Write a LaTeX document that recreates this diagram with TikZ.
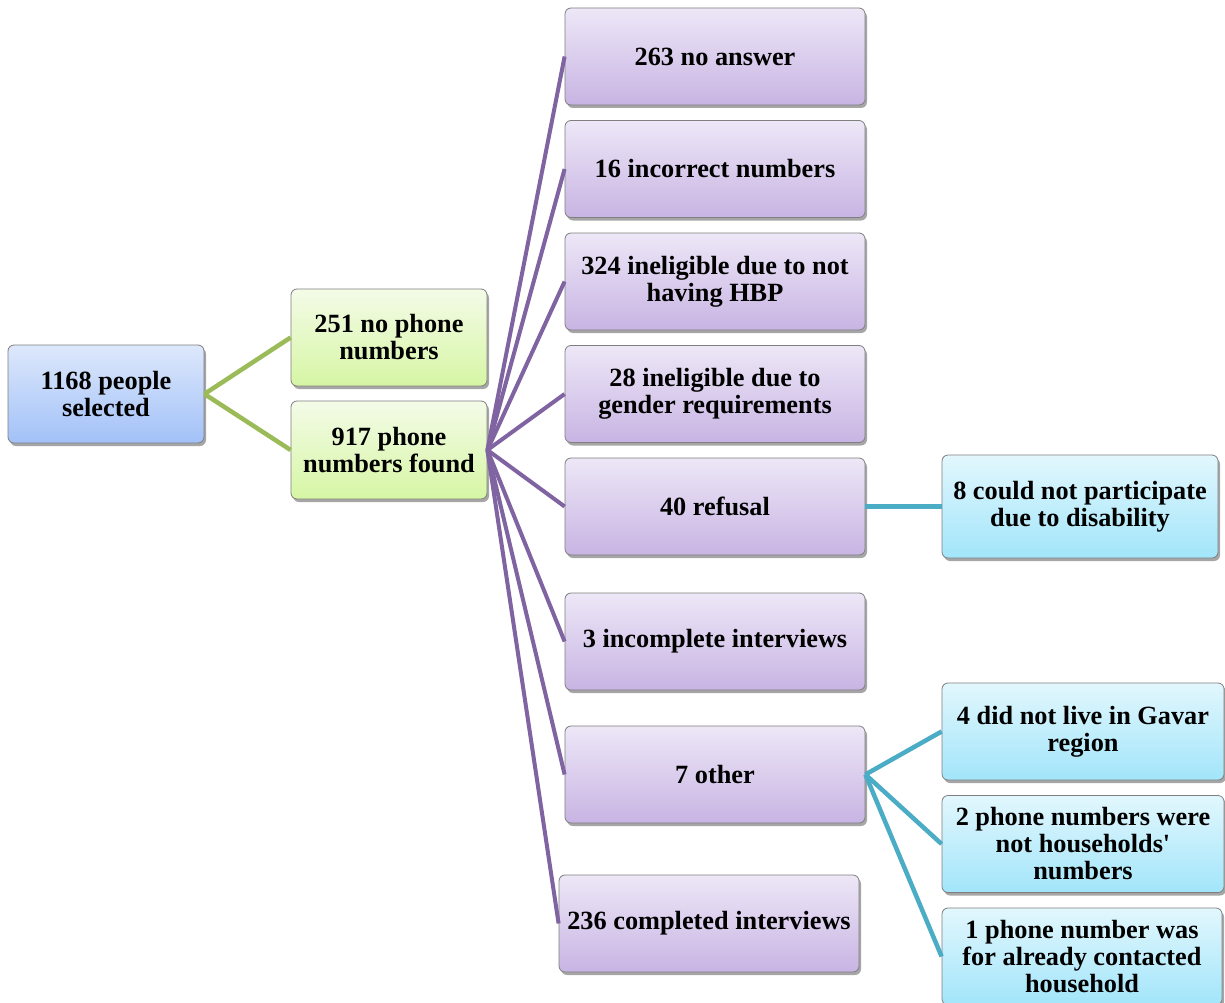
\documentclass[tikz,border=0pt]{standalone}
\usepackage{fontspec}
\setmainfont{Liberation Serif}[Ligatures=TeXOff]
\usetikzlibrary{shadows}
\definecolor{boxborder}{HTML}{7F7F7F}
\definecolor{bluetop}{HTML}{DDE8FB}
\definecolor{bluebot}{HTML}{A2C1F8}
\definecolor{greentop}{HTML}{F4FBE8}
\definecolor{greenbot}{HTML}{D6F6A4}
\definecolor{purptop}{HTML}{EDE7F7}
\definecolor{purpbot}{HTML}{C8B4E3}
\definecolor{cyantop}{HTML}{E2F7FD}
\definecolor{cyanbot}{HTML}{A2E5FA}
\definecolor{gline}{HTML}{9BBB59}
\definecolor{pline}{HTML}{8064A2}
\definecolor{cline}{HTML}{4BACC6}
\tikzset{
  box/.style={rounded corners=6pt, draw=boxborder, line width=0.8pt, align=center,
    font=\fontsize{26.3}{27}\selectfont\bfseries, inner sep=0pt,
    drop shadow={shadow xshift=2pt, shadow yshift=-3pt, opacity=0.35, fill=black}},
  bluebox/.style={box, top color=bluetop, bottom color=bluebot},
  greenbox/.style={box, top color=greentop, bottom color=greenbot},
  purpbox/.style={box, top color=purptop, bottom color=purpbot, minimum width=300pt, minimum height=97pt},
  cyanbox/.style={box, top color=cyantop, bottom color=cyanbot, minimum height=97pt},
  glink/.style={draw=gline, line width=4.5pt},
  plink/.style={draw=pline, line width=4pt},
  clink/.style={draw=cline, line width=4.5pt},
}
\begin{document}
\begin{tikzpicture}[x=1pt,y=1pt]
\clip (0,0) rectangle (1225,-1003);
\fill[white] (0,0) rectangle (1225,-1003);
% nodes
\node[bluebox, minimum width=196pt, minimum height=98pt] (A) at (106,-394) {1168 people\\selected};
\node[greenbox, minimum width=196pt, minimum height=97pt] (B) at (389,-337.5) {251 no phone\\numbers};
\node[greenbox, minimum width=196pt, minimum height=98pt] (C) at (389,-450) {917 phone\\numbers found};
\node[purpbox] (P1) at (715,-56.5) {263 no answer};
\node[purpbox] (P2) at (715,-169) {16 incorrect numbers};
\node[purpbox] (P3) at (715,-281.5) {324 ineligible due to not\\having HBP};
\node[purpbox] (P4) at (715,-394) {28 ineligible due to\\gender requirements};
\node[purpbox] (P5) at (715,-506.5) {40 refusal};
\node[purpbox] (P6) at (715,-641.5) {3 incomplete interviews};
\node[purpbox] (P7) at (715,-774.5) {7 other};
\node[purpbox] (P8) at (709,-923.5) {236 completed interviews};
\node[cyanbox, minimum width=276pt, minimum height=103pt] (Q1) at (1080,-506.5) {8 could not participate\\due to disability};
\node[cyanbox, minimum width=282pt] (Q2) at (1083,-731.5) {4 did not live in Gavar\\region};
\node[cyanbox, minimum width=282pt] (Q3) at (1083,-844) {2 phone numbers were\\not households'\\numbers};
\node[cyanbox, minimum width=280pt] (Q4) at (1082,-956.5) {1 phone number was\\for already contacted\\household};
% connectors
\draw[glink] (A.east) -- (B.west);
\draw[glink] (A.east) -- (C.west);
\foreach \p in {P1,P2,P3,P4,P5,P6,P7,P8}
  \draw[plink] (C.east) -- (\p.west);
\draw[clink] (P5.east) -- (Q1.west);
\draw[clink] (P7.east) -- (Q2.west);
\draw[clink] (P7.east) -- (Q3.west);
\draw[clink] (P7.east) -- (Q4.west);
\end{tikzpicture}
\end{document}
